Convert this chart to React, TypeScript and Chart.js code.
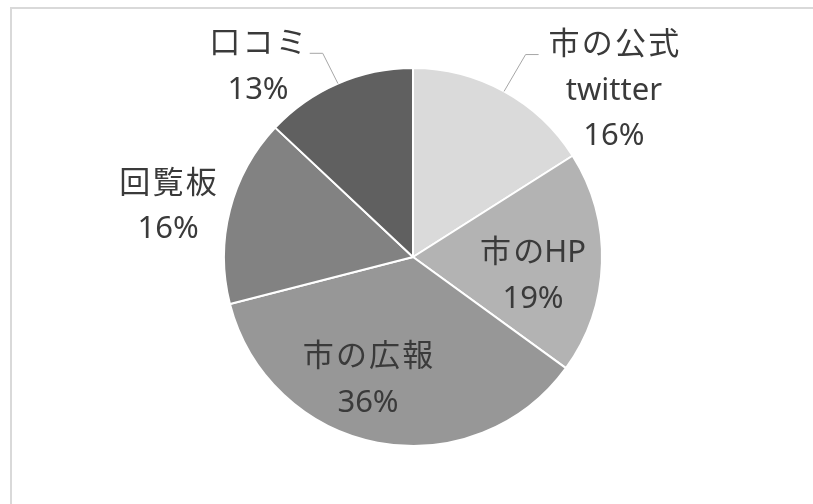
import React, { useEffect, useRef } from "react";
import { Chart, registerables } from "chart.js";

Chart.register(...registerables);

// ---- data ----
const categories = ["市の公式\ntwitter", "市のHP", "市の広報", "回覧板", "口コミ"];
const values = [16, 19, 36, 16, 13];

// ---- style / layout ----
const sliceColors = ["#dadada", "#b3b3b3", "#979797", "#828282", "#606060"];
// label block centre, in units of the outer radius, relative to the pie centre
const labelOffsets: [number, number][] = [
  [1.063, -0.878],
  [0.635, 0.101],
  [-0.238, 0.651],
  [-1.296, -0.265],
  [-0.82, -1.005],
];
const leaderSides: (string | null)[] = ["left", null, null, null, "right"];
const leaderGaps = [10, 0, 0, 0, 3];
const FONT = '"Noto Sans", "Noto Sans CJK JP", sans-serif';
const FONT_SIZE = 31;
const LINE_H = 45.5;
const CJK_SPACING = 2.2;
const TEXT_COLOR = "#3a3a3a";
const LEADER_COLOR = "#a6a6a6";
const CJK = /[\u3000-\u9fff]/;

function gapAfter(chars: string[], k: number) {
  return k < chars.length - 1 && CJK.test(chars[k]) && CJK.test(chars[k + 1]) ? CJK_SPACING : 0;
}

function lineWidth(ctx: CanvasRenderingContext2D, t: string) {
  const chars = Array.from(t);
  let w = 0;
  chars.forEach((c, k) => {
    w += ctx.measureText(c).width + gapAfter(chars, k);
  });
  return w;
}

function drawLine(ctx: CanvasRenderingContext2D, t: string, cx: number, cy: number) {
  const chars = Array.from(t);
  let px = cx - lineWidth(ctx, t) / 2;
  let run = "";
  const flush = () => {
    if (run) {
      ctx.fillText(run, px, cy);
      px += ctx.measureText(run).width;
      run = "";
    }
  };
  chars.forEach((c, k) => {
    if (CJK.test(c)) {
      flush();
      ctx.fillText(c, px, cy);
      px += ctx.measureText(c).width + gapAfter(chars, k);
    } else run += c;
  });
  flush();
}

const labelPlugin = {
  id: "pieLabels",
  afterDatasetsDraw(chart: any) {
    const ctx: CanvasRenderingContext2D = chart.ctx;
    const meta = chart.getDatasetMeta(0);
    const data = chart.data.datasets[0].data as number[];
    const total = data.reduce((a, b) => a + b, 0);
    ctx.save();
    ctx.font = `${FONT_SIZE}px ${FONT}`;
    ctx.textAlign = "left";
    ctx.textBaseline = "middle";
    meta.data.forEach((arc: any, i: number) => {
      const { x, y, startAngle, endAngle, outerRadius } = arc.getProps(
        ["x", "y", "startAngle", "endAngle", "outerRadius"],
        true
      );
      const lines = [
        ...String(chart.data.labels[i]).split("\n"),
        Math.round((data[i] / total) * 100) + "%",
      ];
      const [fx, fy] = labelOffsets[i];
      const cx = x + fx * outerRadius;
      const cy = y + fy * outerRadius;
      const top = cy - ((lines.length - 1) * LINE_H) / 2;
      ctx.fillStyle = TEXT_COLOR;
      lines.forEach((t, k) => drawLine(ctx, t, cx, top + k * LINE_H));
      const side = leaderSides[i];
      if (side) {
        const mid = (startAngle + endAngle) / 2;
        const ex = x + Math.cos(mid) * outerRadius;
        const ey = y + Math.sin(mid) * outerRadius;
        const w = lineWidth(ctx, lines[0]);
        const sgn = side === "left" ? -1 : 1;
        const ly = top + 9;
        const tx = cx + sgn * (w / 2 + leaderGaps[i]);
        const kx = tx + sgn * 13;
        ctx.strokeStyle = LEADER_COLOR;
        ctx.lineWidth = 1;
        ctx.beginPath();
        ctx.moveTo(tx, ly);
        ctx.lineTo(kx, ly);
        ctx.lineTo(ex, ey);
        ctx.stroke();
      }
    });
    ctx.restore();
  },
};

export default function App() {
  const ref = useRef<HTMLCanvasElement>(null);
  useEffect(() => {
    const chart = new Chart(ref.current as HTMLCanvasElement, {
      type: "pie",
      data: {
        labels: categories,
        datasets: [
          {
            data: values,
            backgroundColor: sliceColors,
            borderColor: "#ffffff",
            borderWidth: 2,
            hoverOffset: 0,
          },
        ],
      },
      options: {
        responsive: false,
        animation: false,
        events: [],
        layout: { padding: { top: 67, bottom: 57, left: 13, right: 0 } },
        plugins: {
          legend: { display: false },
          tooltip: { enabled: false },
        },
      },
      plugins: [labelPlugin],
    });
    return () => chart.destroy();
  }, []);
  return (
    <div
      style={{
        position: "fixed",
        left: 0,
        top: 0,
        width: 813,
        height: 504,
        background: "#ffffff",
        overflow: "hidden",
      }}
    >
      <div
        style={{
          position: "absolute",
          left: 10,
          top: 7,
          width: 900,
          height: 600,
          borderTop: "2px solid #d9d9d9",
          borderLeft: "2px solid #d9d9d9",
        }}
      />
      <canvas
        ref={ref}
        width={813}
        height={504}
        style={{ position: "absolute", left: 0, top: 0, width: 813, height: 504 }}
      />
    </div>
  );
}
